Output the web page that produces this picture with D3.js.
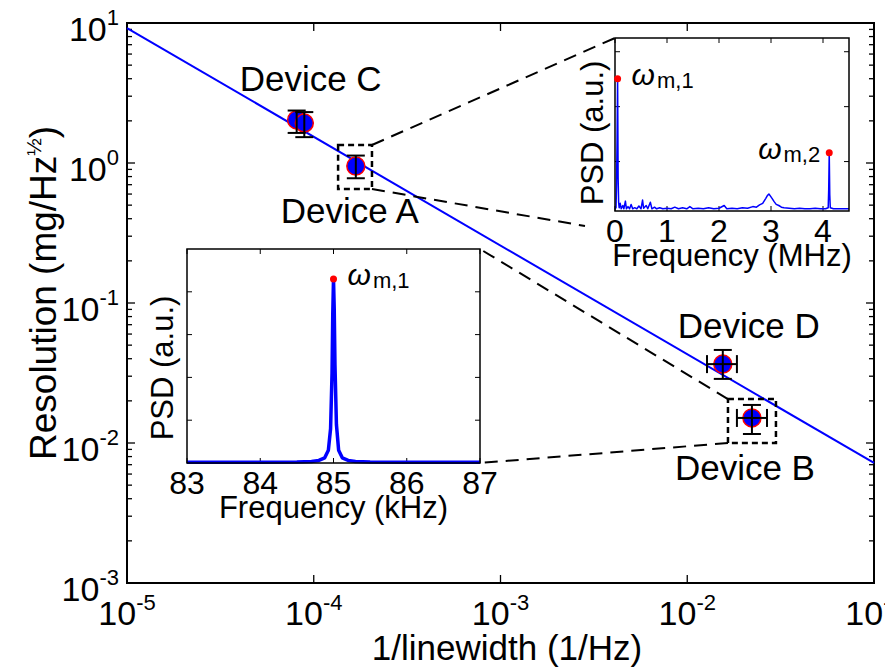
<!DOCTYPE html>
<html>
<head>
<meta charset="utf-8">
<script src="https://cdn.jsdelivr.net/npm/d3@7"></script>
<style>
  body { margin: 0; background: #fff; }
  svg { display: block; }
  text { font-family: "Liberation Sans", Arial, sans-serif; fill: #000; }
</style>
</head>
<body>
<svg id="chart" width="885" height="668"></svg>
<script>
// ---- Device measurements: resolution vs. 1/linewidth ----
const deviceNames   = ["Device C", "Device C", "Device A", "Device D", "Device B"];
const invLinewidth  = [8.1e-5, 8.9e-5, 1.68e-4, 0.0155, 0.0222];
const resolution    = [2.03, 1.93, 0.95, 0.0366, 0.0151];
const resolutionLow = [1.64, 1.53, 0.778, 0.0287, 0.0116];
const resolutionHigh= [2.37, 2.31, 1.13, 0.0462, 0.0187];
const invLwLow      = [null, null, null, 0.01276, 0.01845];
const invLwHigh     = [null, null, null, 0.01845, 0.02673];

// scaling-law fit line (end points)
const fitX = [1e-5, 1e-1];
const fitY = [9.2, 0.0072];

const mainXTicks = [1e-5, 1e-4, 1e-3, 1e-2, 1e-1];
const mainYTicks = [1e-3, 1e-2, 1e-1, 1e0, 1e1];

// ---- Broadband PSD (MHz) ----
const mhzFreq = [0.00,0.02,0.03,0.04,0.05,0.06,0.07,0.08,0.10,0.12,0.15,0.17,0.20,0.22,0.25,0.28,0.31,0.34,0.38,0.42,
  0.46,0.50,0.53,0.55,0.60,0.63,0.68,0.71,0.76,0.80,0.86,0.92,1.00,1.08,1.15,1.22,1.30,1.38,1.44,1.50,
  1.60,1.70,1.80,1.90,2.00,2.10,2.15,2.25,2.35,2.45,2.55,2.65,2.72,2.78,2.84,2.90,2.93,2.96,2.99,3.02,
  3.06,3.10,3.15,3.20,3.25,3.35,3.45,3.55,3.65,3.75,3.85,3.95,4.05,4.10,4.11,4.12,4.13,4.14,4.20,4.30,4.40,4.50];
const mhzPsd = [0.14,0.16,0.60,1.40,2.51,0.70,0.25,0.16,0.24,0.14,0.20,0.14,0.28,0.14,0.18,0.14,0.22,0.14,0.16,0.14,
  0.19,0.14,0.30,0.15,0.20,0.14,0.26,0.14,0.17,0.14,0.16,0.14,0.15,0.14,0.17,0.14,0.16,0.14,0.18,0.14,
  0.15,0.14,0.16,0.14,0.15,0.20,0.14,0.15,0.14,0.16,0.15,0.18,0.17,0.21,0.24,0.33,0.38,0.41,0.37,0.33,
  0.27,0.22,0.20,0.17,0.16,0.15,0.14,0.15,0.14,0.14,0.15,0.14,0.14,0.16,0.50,1.16,0.40,0.16,0.14,0.14,0.14,0.14];
const mhzPeaks = [0.05, 4.12];
const mhzPeakNames = ["m,1", "m,2"];
const mhzXTicks = [0, 1, 2, 3, 4];
const mhzYTicks = [1, 2, 3];

// ---- Fundamental mode PSD (kHz) ----
const khzFreq = [83.0,83.5,84.0,84.5,84.7,84.8,84.88,84.93,84.96,84.98,84.99,85.00,85.01,85.02,85.04,85.07,85.12,85.2,85.3,85.5,86.0,86.5,87.0];
const khzPsd  = [0.02,0.02,0.02,0.025,0.035,0.06,0.12,0.30,0.80,2.10,3.50,4.30,3.60,2.30,0.90,0.30,0.12,0.06,0.035,0.025,0.02,0.02,0.02];
const khzPeaks = [85.00];
const khzPeakNames = ["m,1"];
const khzXTicks = [83, 84, 85, 86, 87];
const khzYTicks = [1, 2, 3, 4];

// ---------------------------------------------------------------
const svg = d3.select("#chart");
svg.append("rect").attr("width", 885).attr("height", 668).attr("fill", "#fff");

const M = { left: 127, right: 874, top: 23, bottom: 583 };
const x = d3.scaleLog().domain([1e-5, 1e-1]).range([M.left, M.right]);
const y = d3.scaleLog().domain([1e-3, 1e1]).range([M.bottom, M.top]);
const expOf = v => Math.round(Math.log10(v));

// y minor ticks (2..9 per decade) and major ticks, both sides
const yMinor = [];
for (let e = -3; e < 1; e++) for (let k = 2; k <= 9; k++) yMinor.push(k * Math.pow(10, e));
const tickG = svg.append("g").attr("stroke", "#000").attr("stroke-width", 1.3);
yMinor.forEach(v => {
  tickG.append("line").attr("x1", M.left).attr("x2", M.left + 5).attr("y1", y(v)).attr("y2", y(v));
  tickG.append("line").attr("x1", M.right).attr("x2", M.right - 5).attr("y1", y(v)).attr("y2", y(v));
});
mainYTicks.forEach(v => {
  tickG.append("line").attr("x1", M.left).attr("x2", M.left + 8).attr("y1", y(v)).attr("y2", y(v));
  tickG.append("line").attr("x1", M.right).attr("x2", M.right - 8).attr("y1", y(v)).attr("y2", y(v));
});
mainXTicks.forEach(v => {
  tickG.append("line").attr("x1", x(v)).attr("x2", x(v)).attr("y1", M.bottom).attr("y2", M.bottom - 8);
  tickG.append("line").attr("x1", x(v)).attr("x2", x(v)).attr("y1", M.top).attr("y2", M.top + 8);
});

// main frame
svg.append("rect")
  .attr("x", M.left).attr("y", M.top)
  .attr("width", M.right - M.left).attr("height", M.bottom - M.top)
  .attr("fill", "none").attr("stroke", "#000").attr("stroke-width", 2);

// tick labels with superscript exponents
mainXTicks.forEach(v => {
  const t = svg.append("text").attr("x", x(v)).attr("y", 625)
    .attr("text-anchor", "middle").attr("font-size", 34);
  t.append("tspan").text("10");
  t.append("tspan").attr("font-size", 22).attr("dy", -15).text(expOf(v));
});
mainYTicks.forEach(v => {
  const t = svg.append("text").attr("x", 119).attr("y", y(v) + 18)
    .attr("text-anchor", "end").attr("font-size", 34);
  t.append("tspan").text("10");
  t.append("tspan").attr("font-size", 22).attr("dy", -16).text(expOf(v));
});

// axis titles
svg.append("text").attr("x", 507).attr("y", 660).attr("text-anchor", "middle")
  .attr("font-size", 35).text("1/linewidth (1/Hz)");
const yt = svg.append("text").attr("transform", "translate(56,460) rotate(-90)")
  .attr("text-anchor", "start").attr("font-size", 37);
yt.append("tspan").text("Resolution (mg/Hz");
yt.append("tspan").attr("font-size", 21).attr("dy", -15).text("½");
yt.append("tspan").attr("dy", 15).text(")");

// fit line
svg.append("path")
  .datum(fitX.map((v, i) => [v, fitY[i]]))
  .attr("d", d3.line().x(d => x(d[0])).y(d => y(d[1])))
  .attr("fill", "none").attr("stroke", "#0000ff").attr("stroke-width", 2);

// device markers
const devG = svg.append("g");
invLinewidth.forEach((v, i) => {
  devG.append("circle").attr("cx", x(v)).attr("cy", y(resolution[i])).attr("r", 9)
    .attr("fill", "#0000ff").attr("stroke", "#ff0000").attr("stroke-width", 1.5);
});
// error bars
const errG = svg.append("g").attr("stroke", "#000").attr("stroke-width", 2);
const cap = 9;
invLinewidth.forEach((v, i) => {
  const cx = x(v), cy = y(resolution[i]);
  const yl = y(resolutionLow[i]), yh = y(resolutionHigh[i]);
  errG.append("line").attr("x1", cx).attr("x2", cx).attr("y1", yl).attr("y2", yh);
  errG.append("line").attr("x1", cx - cap).attr("x2", cx + cap).attr("y1", yl).attr("y2", yl);
  errG.append("line").attr("x1", cx - cap).attr("x2", cx + cap).attr("y1", yh).attr("y2", yh);
  if (invLwLow[i] !== null) {
    const xl = x(invLwLow[i]), xh = x(invLwHigh[i]);
    errG.append("line").attr("x1", xl).attr("x2", xh).attr("y1", cy).attr("y2", cy);
    errG.append("line").attr("x1", xl).attr("x2", xl).attr("y1", cy - cap).attr("y2", cy + cap);
    errG.append("line").attr("x1", xh).attr("x2", xh).attr("y1", cy - cap).attr("y2", cy + cap);
  }
});

// device labels (one per device, offset from its marker)
const labelOffsets = { "Device C": [14, -29], "Device A": [-6, 57], "Device D": [26, -26], "Device B": [-7, 62] };
const seen = new Set();
deviceNames.forEach((name, i) => {
  if (seen.has(name)) return;
  seen.add(name);
  const [dx, dy] = labelOffsets[name];
  svg.append("text").attr("x", x(invLinewidth[i]) + dx).attr("y", y(resolution[i]) + dy)
    .attr("text-anchor", "middle").attr("font-size", 35).text(name);
});

// ---- inset panels ----
const I1 = { left: 615, right: 849, top: 38, bottom: 211 };
const I2 = { left: 187, right: 480, top: 249, bottom: 463 };
const ix1 = d3.scaleLinear().domain([0, 4.5]).range([I1.left, I1.right]);
const iy1 = d3.scaleLinear().domain([0.1, 3.25]).range([I1.bottom, I1.top]);
const ix2 = d3.scaleLinear().domain([83, 87]).range([I2.left, I2.right]);
const iy2 = d3.scaleLinear().domain([0, 5]).range([I2.bottom, I2.top]);

// zoom boxes (data units) and dashed connectors
const boxA = { x0: 1.35e-4, x1: 2.05e-4, y0: 0.652, y1: 1.345 };
const boxB = { x0: 0.01652, x1: 0.02985, y0: 0.0100, y1: 0.0206 };
const dashG = svg.append("g").attr("stroke", "#000").attr("fill", "none");
[boxA, boxB].forEach(b => {
  dashG.append("rect")
    .attr("x", x(b.x0)).attr("y", y(b.y1))
    .attr("width", x(b.x1) - x(b.x0)).attr("height", y(b.y0) - y(b.y1))
    .attr("stroke-width", 2.5).attr("stroke-dasharray", "6,4");
});
const connectors = [
  [[x(boxA.x1), y(boxA.y1)], [I1.left, I1.top]],
  [[x(boxA.x1), y(boxA.y0)], [I1.left - 30, I1.bottom + 15]],
  [[x(boxB.x0), y(boxB.y1)], [I2.right, I2.top]],
  [[x(boxB.x0), y(boxB.y0)], [I2.right, I2.bottom]]
];
connectors.forEach(([a, b]) => {
  dashG.append("line").attr("x1", a[0]).attr("y1", a[1]).attr("x2", b[0]).attr("y2", b[1])
    .attr("stroke-width", 2).attr("stroke-dasharray", "13,8");
});

function drawInset(box, sx, sy, freq, psd, xTicks, yTicks, peaks, peakNames, lineW, xTitle, psdX, psdY) {
  const g = svg.append("g");
  g.append("rect").attr("x", box.left).attr("y", box.top)
    .attr("width", box.right - box.left).attr("height", box.bottom - box.top)
    .attr("fill", "#fff");
  const tg = g.append("g").attr("stroke", "#000").attr("stroke-width", 1);
  xTicks.forEach(v => {
    tg.append("line").attr("x1", sx(v)).attr("x2", sx(v)).attr("y1", box.bottom).attr("y2", box.bottom - 5);
    tg.append("line").attr("x1", sx(v)).attr("x2", sx(v)).attr("y1", box.top).attr("y2", box.top + 5);
  });
  yTicks.forEach(v => {
    tg.append("line").attr("x1", box.left).attr("x2", box.left + 5).attr("y1", sy(v)).attr("y2", sy(v));
    tg.append("line").attr("x1", box.right).attr("x2", box.right - 5).attr("y1", sy(v)).attr("y2", sy(v));
  });
  g.append("path")
    .datum(freq.map((f, i) => [f, psd[i]]))
    .attr("d", d3.line().x(d => sx(d[0])).y(d => sy(d[1])))
    .attr("fill", "none").attr("stroke", "#0000ff").attr("stroke-width", lineW)
    .attr("stroke-linejoin", "round");
  g.append("rect").attr("x", box.left).attr("y", box.top)
    .attr("width", box.right - box.left).attr("height", box.bottom - box.top)
    .attr("fill", "none").attr("stroke", "#000").attr("stroke-width", 1.5);
  xTicks.forEach(v => {
    g.append("text").attr("x", sx(v)).attr("y", box.bottom + 31)
      .attr("text-anchor", "middle").attr("font-size", 32).text(v);
  });
  g.append("text").attr("x", (box.left + box.right) / 2).attr("y", box.bottom + 55)
    .attr("text-anchor", "middle").attr("font-size", 31).text(xTitle);
  g.append("text").attr("transform", `translate(${psdX},${psdY}) rotate(-90)`)
    .attr("text-anchor", "middle").attr("font-size", 31).text("PSD (a.u.)");
  peaks.forEach((f, k) => {
    const i = freq.indexOf(f);
    const px = sx(f), py = sy(psd[i]);
    g.append("circle").attr("cx", px).attr("cy", py).attr("r", 3.5).attr("fill", "#ff0000");
    const right = px > (box.left + box.right) / 2 + 60;
    const t = g.append("text").attr("x", right ? px - 9 : px + 14).attr("y", py + 6)
      .attr("text-anchor", right ? "end" : "start");
    t.append("tspan").attr("font-size", 30).attr("font-style", "italic").text("ω");
    t.append("tspan").attr("font-size", 22).attr("dx", 2).attr("dy", 3).text(peakNames[k]);
  });
}

drawInset(I1, ix1, iy1, mhzFreq, mhzPsd, mhzXTicks, mhzYTicks, mhzPeaks, mhzPeakNames, 1.5, "Frequency (MHz)", 603, 133);
drawInset(I2, ix2, iy2, khzFreq, khzPsd, khzXTicks, khzYTicks, khzPeaks, khzPeakNames, 3.5, "Frequency (kHz)", 173, 368);
</script>
</body>
</html>
